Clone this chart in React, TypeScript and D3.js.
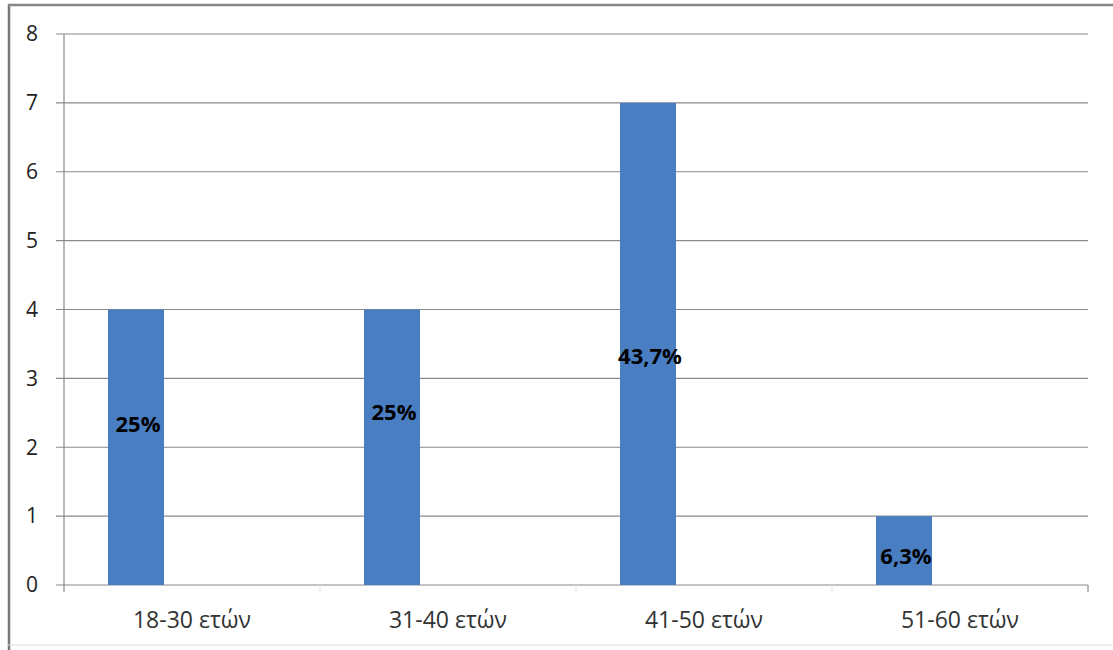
import React from "react";
import * as d3 from "d3";

const categories = ["18-30 ετών", "31-40 ετών", "41-50 ετών", "51-60 ετών"];
const values = [4, 4, 7, 1];
const percentLabels = ["25%", "25%", "43,7%", "6,3%"];
const labelAnchors = [2.34, 2.51, 3.32, 0.42];
const yTicks = [0, 1, 2, 3, 4, 5, 6, 7, 8];
const seriesSlots = ["s1", "s2", "s3"];

export default function App() {
  const W = 1113, H = 650;
  const left = 64, right = 1088, top = 34, bottom = 585;
  const x = d3.scaleBand<string>().domain(categories).range([left, right]).padding(0);
  const inner = d3.scaleBand<string>().domain(seriesSlots).range([0, x.bandwidth()]).paddingInner(0).paddingOuter(0.786);
  const y = d3.scaleLinear().domain([0, 8]).range([bottom, top]);
  const font = "'Open Sans', 'DejaVu Sans', sans-serif";
  return (
    <svg width={W} height={H} style={{ position: "absolute", left: 0, top: 0, background: "#fff" }}>
      <rect x={0} y={0} width={W} height={H} fill="#fff" />
      <line x1={9} x2={9} y1={4} y2={H} stroke="#777" strokeWidth={2.5} />
      <line x1={8} x2={W} y1={5} y2={5} stroke="#888" strokeWidth={2.5} />
      <line x1={8} x2={W} y1={645} y2={645} stroke="#ddd" strokeWidth={1} />
      {yTicks.map((t) => (
        <g key={t}>
          <line x1={56} x2={right} y1={y(t)} y2={y(t)} stroke="#8a8a8a" strokeWidth={1.2} />
          <text x={32} y={y(t)} dy="0.35em" textAnchor="middle" fontSize={21} fill="#222" fontFamily={font}>{t}</text>
        </g>
      ))}
      <line x1={left} x2={left} y1={top} y2={bottom + 7} stroke="#8a8a8a" strokeWidth={1.2} />
      {categories.slice(1).map((c) => (
        <line key={c} x1={x(c)!} x2={x(c)!} y1={bottom} y2={bottom + 7} stroke="#ddd" strokeWidth={1} />
      ))}
      <line x1={right} x2={right} y1={bottom} y2={bottom + 7} stroke="#8a8a8a" strokeWidth={1.2} />
      {categories.map((c, i) => {
        const bx = x(c)! + inner("s1")!;
        const bw = inner.bandwidth();
        return (
          <g key={c}>
            <rect x={bx} y={y(values[i])} width={bw} height={y(0) - y(values[i])} fill="#4a7ec2" />
            <text x={bx + bw / 2 + 2} y={y(labelAnchors[i])} dy="0.35em" textAnchor="middle" fontSize={22} fontWeight="bold" fill="#000" fontFamily={font}>{percentLabels[i]}</text>
            <text x={x(c)! + x.bandwidth() / 2} y={620} dy="0.35em" textAnchor="middle" fontSize={23} fill="#333" fontFamily={font}>{c}</text>
          </g>
        );
      })}
    </svg>
  );
}
